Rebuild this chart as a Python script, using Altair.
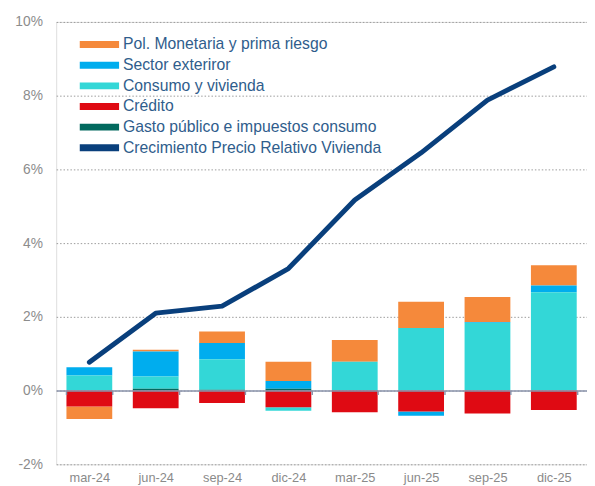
import altair as alt
import pandas as pd

quarters = ["mar-24", "jun-24", "sep-24", "dic-24", "mar-25", "jun-25", "sep-25", "dic-25"]

series_names = [
    "Pol. Monetaria y prima riesgo",
    "Sector exteriror",
    "Consumo y vivienda",
    "Crédito",
    "Gasto público e impuestos consumo",
    "Crecimiento Precio Relativo Vivienda",
]
series_colors = ["#f5893b", "#00adee", "#33d7d7", "#df0a13", "#02695e", "#093f7c"]

pol_monetaria = [-0.34, 0.05, 0.31, 0.52, 0.59, 0.71, 0.68, 0.55]
sector_exterior = [0.22, 0.68, 0.44, 0.21, 0.00, -0.11, 0.02, 0.18]
consumo_vivienda = [0.41, 0.33, 0.83, -0.10, 0.77, 1.70, 1.84, 2.67]
credito = [-0.43, -0.48, -0.34, -0.45, -0.59, -0.57, -0.62, -0.53]
gasto_publico = [0.00, 0.05, 0.02, 0.05, 0.01, 0.00, 0.00, 0.00]
precio_relativo = [0.77, 2.10, 2.29, 3.31, 5.17, 6.45, 7.88, 8.78]

# stacking order: from zero outward
stack_order = {
    "Gasto público e impuestos consumo": 0,
    "Crédito": 1,
    "Consumo y vivienda": 2,
    "Sector exteriror": 3,
    "Pol. Monetaria y prima riesgo": 4,
}

rows = []
for name, vals in [
    (series_names[0], pol_monetaria),
    (series_names[1], sector_exterior),
    (series_names[2], consumo_vivienda),
    (series_names[3], credito),
    (series_names[4], gasto_publico),
]:
    for q, v in zip(quarters, vals):
        rows.append({"q": q, "serie": name, "v": v, "ord": stack_order[name]})
bars_df = pd.DataFrame(rows)
line_df = pd.DataFrame({"q": quarters, "v": precio_relativo})

FONT = "Arial, Liberation Sans, sans-serif"
W, H = 540, 450

x_enc = alt.X(
    "q:N",
    sort=quarters,
    scale=alt.Scale(paddingInner=0.31, paddingOuter=0.155),
    axis=alt.Axis(
        title=None,
        offset=-75,
        domain=True,
        domainColor="#8a93ab",
        domainWidth=1.5,
        ticks=True,
        tickBand="extent",
        tickColor="#8a93ab",
        tickSize=4,
        tickWidth=1.5,
        labelPadding=79,
        labelColor="#8a8a8a",
        labelFontSize=13,
        labelFont=FONT,
        labelAngle=0,
        grid=False,
        zindex=1,
    ),
)

y_scale = alt.Scale(domain=[-2, 10], nice=False, zero=False)

bars = alt.Chart(bars_df).mark_bar().encode(
    x=x_enc,
    y=alt.Y(
        "v:Q",
        scale=y_scale,
        stack="zero",
        axis=alt.Axis(
            title=None,
            values=[-2, 0, 2, 4, 6, 8, 10],
            labelExpr="datum.value + '%'",
            labelColor="#8c8c8c",
            labelFontSize=14,
            labelFont=FONT,
            labelPadding=14,
            domain=False,
            ticks=False,
            grid=True,
            gridColor="#9a9a9a",
            gridDash=[1.5, 2],
            gridWidth=1,
        ),
    ),
    color=alt.Color(
        "serie:N",
        scale=alt.Scale(domain=series_names, range=series_colors),
        legend=alt.Legend(
            title=None,
            orient="none",
            legendX=34,
            legendY=13,
            symbolType="M-2,-0.35H2V0.35H-2Z",
            symbolSize=400,
            symbolStrokeWidth=0,
            labelFont=FONT,
            labelFontSize=16,
            labelColor="#2f5d8c",
            labelOffset=14,
            labelLimit=500,
            rowPadding=3,
            padding=0,
        ),
    ),
    order=alt.Order("ord:Q"),
)

line = alt.Chart(line_df).mark_line(
    color="#093f7c", strokeWidth=5, strokeCap="round", strokeJoin="round"
).encode(
    x=alt.X("q:N", sort=quarters),
    y=alt.Y("v:Q", scale=y_scale),
)

chart = (
    alt.layer(bars, line)
    .properties(
        width=W,
        height=H,
        autosize=alt.AutoSizeParams(type="none"),
        padding={"left": 49, "top": 10, "right": 0, "bottom": 24},
    )
    .configure_view(stroke=None)
    .configure(font=FONT)
)

chart.save("out.html", embed_options={"renderer": "svg", "actions": False})
